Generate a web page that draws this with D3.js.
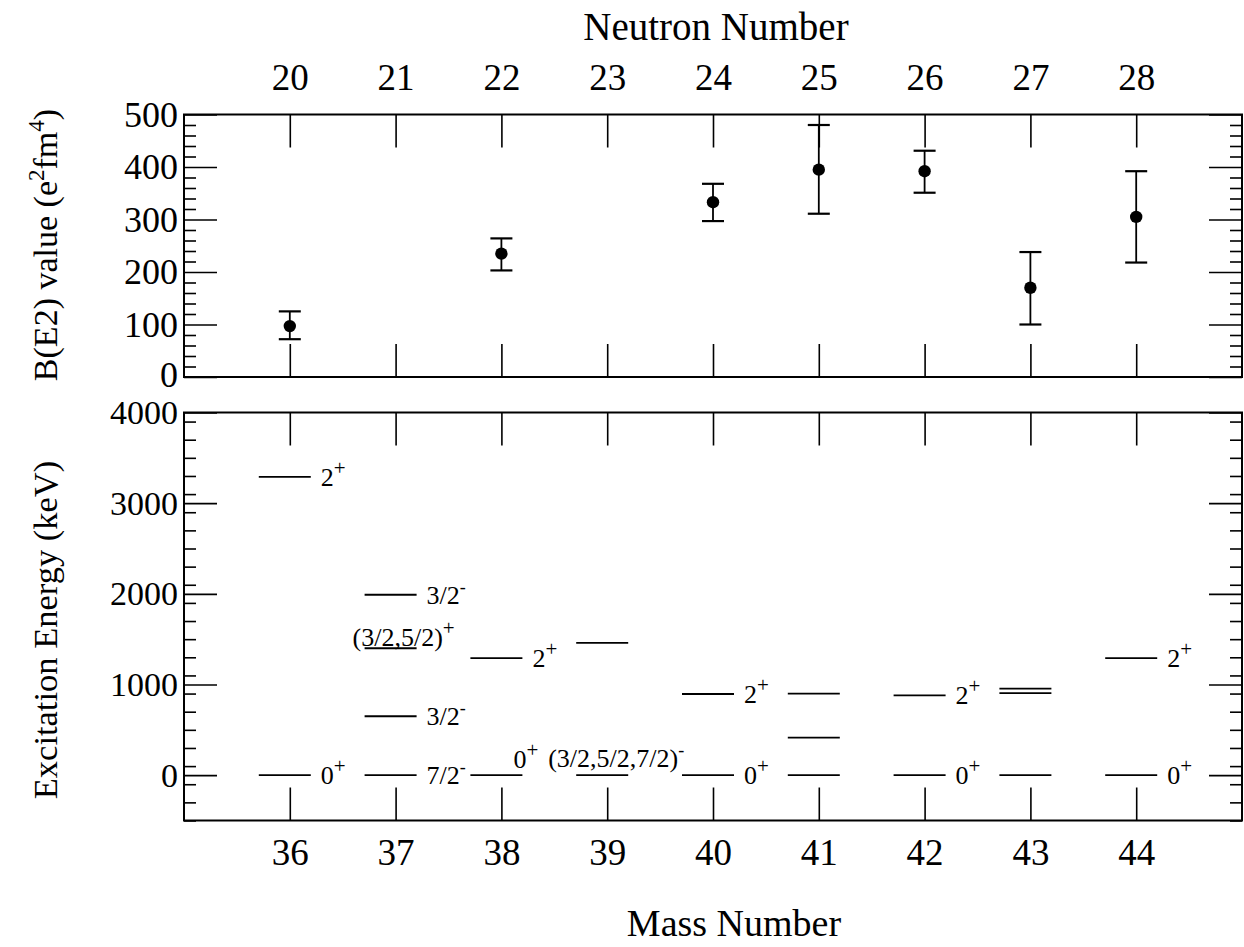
<!DOCTYPE html>
<html><head><meta charset="utf-8">
<script src="https://cdn.jsdelivr.net/npm/d3@7"></script>
<style>
body{margin:0;background:#fff}
svg{display:block}
text{font-family:"Liberation Serif","Times New Roman",serif;fill:#000}
</style>
</head><body>
<svg id="chart" width="1244" height="947"></svg>
<script>
// ---------- data ----------
const massNumbers    = [36, 37, 38, 39, 40, 41, 42, 43, 44];
const neutronNumbers = [20, 21, 22, 23, 24, 25, 26, 27, 28];

const be2Mass  = [36, 38, 40, 41, 42, 43, 44];
const be2Value = [97, 235, 333, 395, 392, 170, 305];
const be2Low   = [72, 203, 297, 311, 351, 100, 218];
const be2High  = [125, 264, 368, 480, 431, 238, 392];

const be2Ticks    = [0, 100, 200, 300, 400, 500];
const energyTicks = [0, 1000, 2000, 3000, 4000];

const levelMass   = [36, 36, 37, 37, 37, 37, 38, 38, 39, 39, 40, 40, 41, 41, 41, 42, 42, 43, 43, 43, 44, 44];
const levelEnergy = [0, 3290, 0, 650, 1400, 1990, 0, 1290, 0, 1460, 0, 895, 0, 415, 900, 0, 880, 0, 905, 955, 0, 1290];
const levelLabel  = ["0+", "2+", "7/2-", "3/2-", "(3/2,5/2)+", "3/2-", "0+", "2+", "(3/2,5/2,7/2)-", "",
                     "0+", "2+", "", "", "", "0+", "2+", "", "", "", "0+", "2+"];

// ---------- layout ----------
const svg = d3.select("#chart");
const x = d3.scaleLinear().domain([35, 45]).range([184, 1242]);
const yTop = d3.scaleLinear().domain([0, 500]).range([377, 114.5]);
const yBot = d3.scaleLinear().domain([-500, 4000]).range([820.5, 412.5]);

const MAJOR = 33, MINOR = 12;

function styleAxis(g, fs) {
  g.select(".domain").remove();
  g.selectAll(".tick line").attr("stroke", "#000").attr("stroke-width", 1.6);
  g.selectAll("text").attr("font-family", '"Liberation Serif","Times New Roman",serif')
    .attr("font-size", fs).attr("fill", "#000");
}

function panel(y, majors, minorStep, labelled, yfs) {
  const [d0, d1] = y.domain();
  const minors = d3.range(d0, d1 + 0.001, minorStep).filter(v => !majors.includes(v));
  // left major
  const left = svg.append("g").attr("transform", `translate(${x(35)},0)`)
    .call(d3.axisLeft(y).tickValues(majors).tickSize(-MAJOR).tickPadding(6).tickFormat(d3.format("d")))
    .call(g => styleAxis(g, yfs));
  if (labelled === "top") {
    left.selectAll(".tick").filter(d => d === 0).select("text").attr("dy", "0.25em");
  }
  // left minor
  svg.append("g").attr("transform", `translate(${x(35)},0)`)
    .call(d3.axisLeft(y).tickValues(minors).tickSize(-MINOR).tickFormat(""))
    .call(g => styleAxis(g, yfs));
  // right major + minor
  svg.append("g").attr("transform", `translate(${x(45)},0)`)
    .call(d3.axisRight(y).tickValues(majors).tickSize(-MAJOR).tickFormat(""))
    .call(g => styleAxis(g, yfs));
  svg.append("g").attr("transform", `translate(${x(45)},0)`)
    .call(d3.axisRight(y).tickValues(minors).tickSize(-MINOR).tickFormat(""))
    .call(g => styleAxis(g, yfs));
  // x ticks top & bottom
  svg.append("g").attr("transform", `translate(0,${y(d1)})`)
    .call(d3.axisTop(x).tickValues(massNumbers).tickSize(-MAJOR).tickPadding(25)
      .tickFormat(labelled === "top" ? ((d, i) => neutronNumbers[i]) : ""))
    .call(g => styleAxis(g, 37));
  svg.append("g").attr("transform", `translate(0,${y(d0)})`)
    .call(d3.axisBottom(x).tickValues(massNumbers).tickSize(-MAJOR).tickPadding(18)
      .tickFormat(labelled === "bottom" ? ((d, i) => massNumbers[i]) : ""))
    .call(g => styleAxis(g, 37));
  // frame
  svg.append("rect")
    .attr("x", x(35)).attr("y", y(d1))
    .attr("width", x(45) - x(35)).attr("height", y(d0) - y(d1))
    .attr("fill", "none").attr("stroke", "#000").attr("stroke-width", 2);
}

panel(yTop, be2Ticks, 20, "top", 36);
panel(yBot, energyTicks, 200, "bottom", 34);

// ---------- B(E2) points with error bars ----------
const be2 = be2Mass.map((m, i) => ({m, v: be2Value[i], lo: be2Low[i], hi: be2High[i]}));
const eb = svg.append("g").attr("stroke", "#000").attr("stroke-width", 1.8);
const CAP = 11;
be2.forEach(d => {
  eb.append("line").attr("x1", x(d.m)).attr("x2", x(d.m)).attr("y1", yTop(d.lo)).attr("y2", yTop(d.hi));
  eb.append("line").attr("x1", x(d.m) - CAP).attr("x2", x(d.m) + CAP).attr("y1", yTop(d.lo)).attr("y2", yTop(d.lo)).attr("stroke-width", 2.2);
  eb.append("line").attr("x1", x(d.m) - CAP).attr("x2", x(d.m) + CAP).attr("y1", yTop(d.hi)).attr("y2", yTop(d.hi)).attr("stroke-width", 2.2);
});
svg.append("g").selectAll("circle").data(be2).join("circle")
  .attr("cx", d => x(d.m)).attr("cy", d => yTop(d.v)).attr("r", 6.2).attr("fill", "#000");

// ---------- level scheme ----------
const levels = levelMass.map((m, i) => ({m, e: levelEnergy[i], label: levelLabel[i]}));
const lg = svg.append("g");
const L0 = -31, L1 = 21;
lg.selectAll("line").data(levels).join("line")
  .attr("x1", d => x(d.m) + L0).attr("x2", d => x(d.m) + L1)
  .attr("y1", d => yBot(d.e)).attr("y2", d => yBot(d.e))
  .attr("stroke", "#000").attr("stroke-width", 1.8);

function addLabel(text, px, py) {
  const last = text.slice(-1);
  const hasSign = last === "+" || last === "-";
  const main = hasSign ? text.slice(0, -1) : text;
  const t = svg.append("text").attr("x", px).attr("y", py).attr("font-size", 26);
  t.append("tspan").text(main);
  if (hasSign) t.append("tspan").attr("dy", -11).attr("font-size", last === "+" ? 21 : 18).text(last);
}

levels.filter(d => d.label).forEach(d => {
  const ly = yBot(d.e);
  const x0 = x(d.m) + L0, x1 = x(d.m) + L1;
  if (d.label === "(3/2,5/2,7/2)-") {
    addLabel(d.label, x0 - 28, ly - 8);
  } else if (d.label === "(3/2,5/2)+") {
    addLabel(d.label, x0 - 12, ly - 2);
  } else if (d.m === 38 && d.e === 0) {
    addLabel(d.label, x1 - 9, ly - 7);
  } else {
    addLabel(d.label, x1 + 10, ly + 9);
  }
});

// ---------- titles ----------
svg.append("text").attr("x", 716).attr("y", 40).attr("text-anchor", "middle")
  .attr("font-size", 39).text("Neutron Number");
svg.append("text").attr("x", 734).attr("y", 936).attr("text-anchor", "middle")
  .attr("font-size", 38).text("Mass Number");

const t1 = svg.append("text").attr("transform", "translate(57,245) rotate(-90)")
  .attr("text-anchor", "middle").attr("font-size", 34);
t1.append("tspan").text("B(E2) value (e");
t1.append("tspan").attr("dy", -13).attr("font-size", 23).text("2");
t1.append("tspan").attr("dy", 13).text("fm");
t1.append("tspan").attr("dy", -13).attr("font-size", 23).text("4");
t1.append("tspan").attr("dy", 13).text(")");

svg.append("text").attr("transform", "translate(57,630) rotate(-90)")
  .attr("text-anchor", "middle").attr("font-size", 34.5).text("Excitation Energy (keV)");
</script>
</body></html>
